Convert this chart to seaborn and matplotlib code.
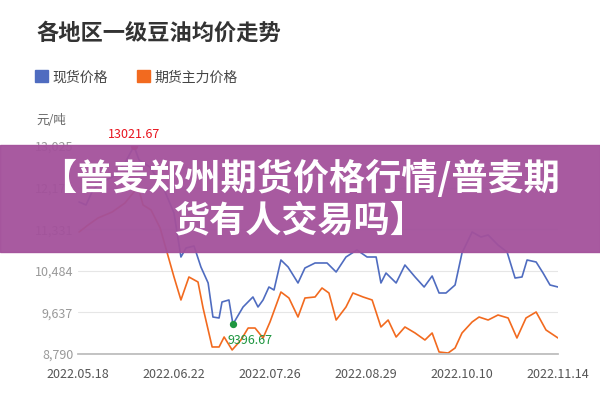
import matplotlib
matplotlib.use("Agg")
import matplotlib.pyplot as plt
import seaborn as sns
import pandas as pd

blue_x = [0.4,3,5.6,8.3,12.8,17.6,21,22.9,27,31.9,36,38.6,40.5,43.5,46.1,48.8,50.6,52.9,54,56.6,
          58.1,61.9,65.6,67.5,69.4,71.6,73.5,76.1,78.8,82.5,85.1,88.9,93.4,96.8,100.5,104.6,108.4,111.8,113.6,115.5,
          119.3,122.6,126.4,129.8,132.8,135.4,138,141.4,144,147.8,151.1,153.8,157.5,160.9,163.9,166.5,168.4,171.8,174.4,177,180]
spot = [11885,11824,12129,12272,12394,12679,13022,12740,12597,12190,11661,10765,10948,10989,10561,10236,9543,9523,9849,9890,
        9397,9747,9951,9747,9890,10154,10093,10704,10561,10236,10541,10643,10643,10460,10765,10908,10765,10765,10236,10439,
        10236,10602,10358,10154,10378,10032,10032,10195,10847,11274,11172,11213,11009,10867,10337,10358,10704,10663,10439,10195,10154]
orange_x = [0.4,3.8,7.5,12.8,17.6,22.5,24.4,27.4,30.8,36,38.6,41.6,45,46.9,50.3,52.9,54.8,57.8,61.1,63.8,66.4,69.4,72,76.1,79.1,
            82.5,85.1,88.9,91.5,94.1,96.8,100.5,103.1,106.9,110.3,113.6,116.3,119.3,122.6,126.4,130.1,132.8,135.4,138.8,141.4,
            144,147.8,150.4,153.8,157.5,161.3,164.6,168,171.8,175.5,180]
futures = [11274,11417,11559,11681,11864,12190,11824,11722,11355,10358,9890,10358,10256,9727,8933,8933,9136,8872,9075,9319,9319,
           9116,9442,10052,9930,9543,9930,9951,10134,10032,9482,9747,10032,9951,9890,9340,9482,9136,9340,9218,9075,9218,8831,8810,
           8912,9218,9442,9543,9482,9584,9523,9116,9523,9645,9279,9116]
tick_labels = ["2022.05.18","2022.06.22","2022.07.26","2022.08.29","2022.10.10","2022.11.14"]
y_ticks = [8790,9637,10484,11331,12178,13025]
series_names = ["现货价格","期货主力价格"]

sns.set_theme(style="white")
plt.rcParams['font.family'] = ['Noto Sans CJK SC', 'DejaVu Sans']

fig = plt.figure(figsize=(6,4), dpi=100)
ax = fig.add_axes([0.13, 0.115, 0.80, 0.52])
df1 = pd.DataFrame({"x": blue_x, "y": spot})
df2 = pd.DataFrame({"x": orange_x, "y": futures})
blue, orange = "#4f6cc0", "#f26a1f"
sns.lineplot(data=df1, x="x", y="y", ax=ax, color=blue, lw=1.2)
sns.lineplot(data=df2, x="x", y="y", ax=ax, color=orange, lw=1.2)

imax = spot.index(max(spot)); imin = spot.index(min(spot))
ax.scatter([blue_x[imax]],[spot[imax]], color="#e8141e", s=18, zorder=5)
ax.annotate("13021.67", (blue_x[imax], spot[imax]), xytext=(0,6),
            textcoords="offset points", ha="center", color="#e8141e", fontsize=9)
ax.scatter([blue_x[imin]],[spot[imin]], color="#1e9640", s=18, zorder=5)
ax.annotate("9396.67", (blue_x[imin], spot[imin]), xytext=(-4,-14),
            textcoords="offset points", ha="left", color="#1e9640", fontsize=9)

ax.set_xlim(0,180); ax.set_ylim(8790,13025)
ax.set_xticks([i*36 for i in range(6)])
ax.set_xticklabels(tick_labels, fontsize=9, color="#555555")
ax.set_yticks(y_ticks)
ax.set_yticklabels([f"{v:,}" for v in y_ticks], fontsize=9, color="#999999")
ax.yaxis.grid(True, color="#e6e6e6", lw=0.8)
ax.set_xlabel(""); ax.set_ylabel("")
for s in ["top","right","left"]:
    ax.spines[s].set_visible(False)
ax.spines["bottom"].set_color("#bbbbbb")
ax.tick_params(axis="x", length=4, color="#bbbbbb", pad=6)
ax.tick_params(axis="y", length=0)

fig.text(0.06, 0.9, "各地区一级豆油均价走势", fontsize=16, fontweight="bold", color="#333333")
fig.patches.append(plt.Rectangle((0.058,0.795),0.022,0.03, color=blue, transform=fig.transFigure, figure=fig))
fig.text(0.088, 0.795, series_names[0], fontsize=10, color="#444444")
fig.patches.append(plt.Rectangle((0.228,0.795),0.022,0.03, color=orange, transform=fig.transFigure, figure=fig))
fig.text(0.258, 0.795, series_names[1], fontsize=10, color="#444444")
fig.text(0.06, 0.69, "元/吨", fontsize=9, color="#666666")

fig.patches.append(plt.Rectangle((0,0.37),1,0.268, color="#a3519b", alpha=0.95,
                                 transform=fig.transFigure, figure=fig, zorder=10))
fig.text(0.5, 0.553, "【普麦郑州期货价格行情/普麦期", fontsize=26, fontweight="bold",
         color="white", ha="center", va="center", zorder=11)
fig.text(0.5, 0.448, "货有人交易吗】", fontsize=26, fontweight="bold",
         color="white", ha="center", va="center", zorder=11)
fig.savefig("out.png", dpi=100)
